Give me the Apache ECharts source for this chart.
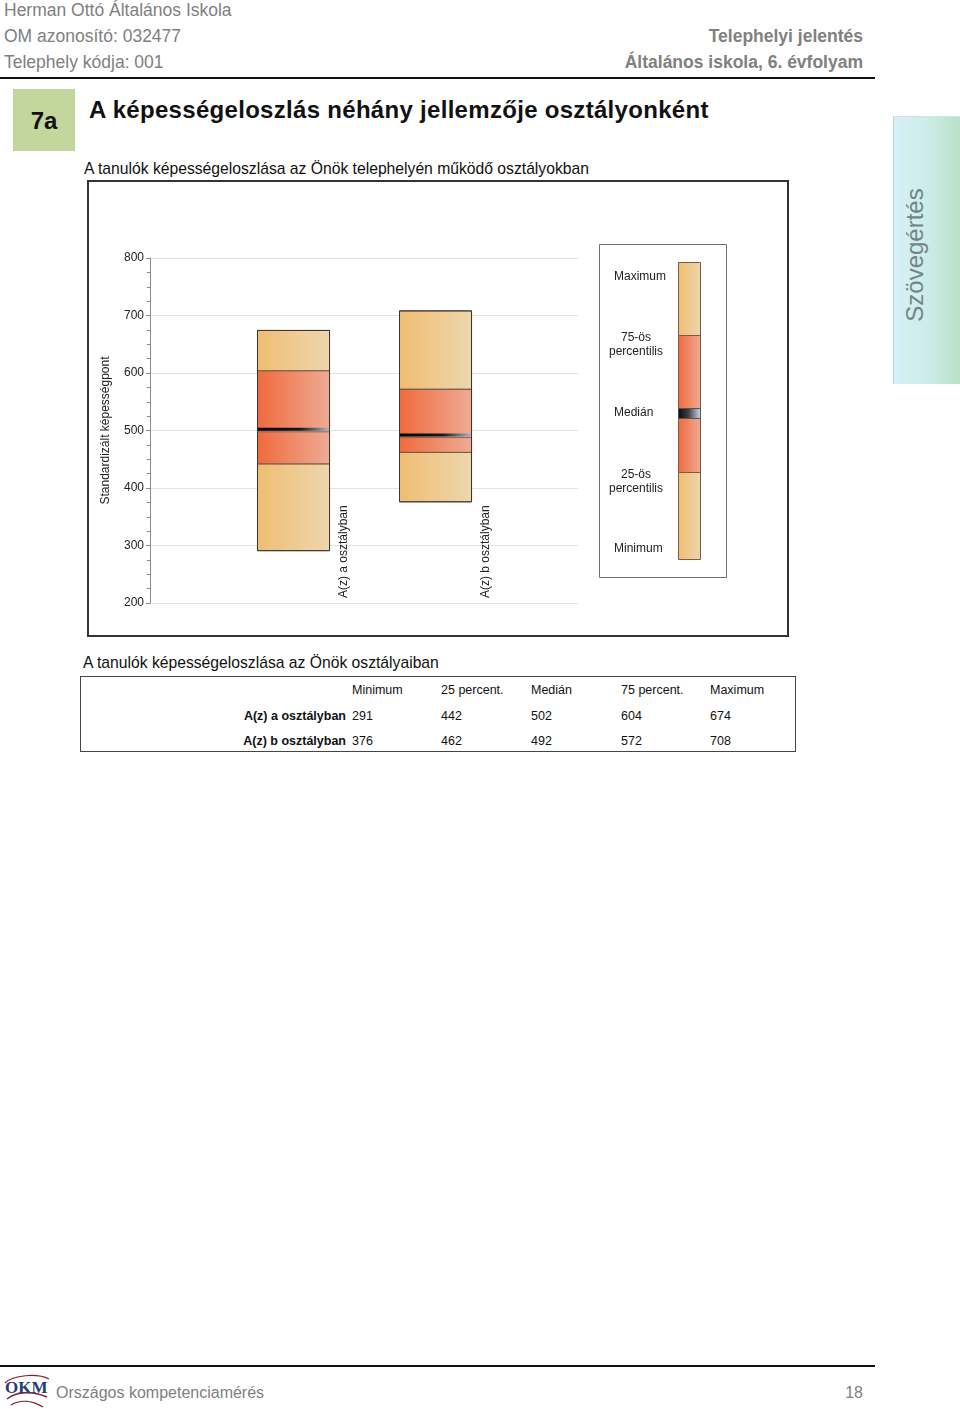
<!DOCTYPE html>
<html lang="hu">
<head>
<meta charset="utf-8">
<script src="https://cdn.jsdelivr.net/npm/echarts@6/dist/echarts.min.js"></script>
<style>
  html, body { margin: 0; padding: 0; background: #fff; }
  body { width: 960px; height: 1409px; position: relative; overflow: hidden;
         font-family: "Liberation Sans", Arial, sans-serif; }
  .abs { position: absolute; white-space: nowrap; }
  .hdr { color: #808080; font-size: 17.5px; line-height: 17px; }
  .hdrb { color: #808080; font-size: 17.5px; line-height: 17px; font-weight: bold; }
  .rule { position: absolute; background: #111; }
  #frame { position: absolute; left: 87px; top: 180px; width: 702px; height: 457px;
           border: 2px solid #333; box-sizing: border-box; }
  #chart { position: absolute; left: 89px; top: 182px; width: 698px; height: 452px; }
  #tbl { position: absolute; left: 80px; top: 676px; width: 716px; height: 76px;
         border: 1px solid #444; box-sizing: border-box; }
  .tc { position: absolute; font-size: 12.5px; line-height: 14px; color: #111; white-space: nowrap; }
  .tl { position: absolute; font-size: 12.5px; line-height: 14px; color: #111; font-weight: bold;
        white-space: nowrap; text-align: right; width: 200px; }
</style>
</head>
<body>
<!-- header -->
<div class="abs hdr" style="left:4px; top:2px;">Herman Ottó Általános Iskola</div>
<div class="abs hdr" style="left:4px; top:28px;">OM azonosító: 032477</div>
<div class="abs hdr" style="left:4px; top:54px;">Telephely kódja: 001</div>
<div class="abs hdrb" style="right:97px; top:28px;">Telephelyi jelentés</div>
<div class="abs hdrb" style="right:97px; top:54px;">Általános iskola, 6. évfolyam</div>
<div class="rule" style="left:0; top:77px; width:875px; height:2px;"></div>

<!-- section title -->
<div class="abs" style="left:13px; top:89px; width:62px; height:62px; background:#c3d69c;"></div>
<div class="abs" style="left:13px; top:89px; width:62px; height:62px; line-height:64px; text-align:center; font-weight:bold; font-size:24px; color:#111;">7a</div>
<div class="abs" style="left:89px; top:96px; font-weight:bold; font-size:24px; line-height:28px; letter-spacing:0.3px; color:#111;">A képességeloszlás néhány jellemzője osztályonként</div>

<!-- side tab -->
<div class="abs" style="left:893px; top:116px; width:67px; height:268px; border-left:1px solid #b9d6cc; border-top:1px solid #cfe6e0; box-sizing:border-box; background:linear-gradient(to right, #d6f1f8 0%, #cdece8 50%, #b8e1c9 100%);"></div>
<div class="abs" style="left:915px; top:255px; transform:translate(-50%,-50%) rotate(-90deg); font-size:24px; line-height:28px; color:#738585;">Szövegértés</div>

<!-- chart -->
<div class="abs" style="left:84px; top:160px; font-size:15.7px; line-height:18px; color:#111;">A tanulók képességeloszlása az Önök telephelyén működő osztályokban</div>
<div id="frame"></div>
<div id="chart"></div>

<!-- table -->
<div class="abs" style="left:83px; top:654px; font-size:15.7px; line-height:18px; color:#111;">A tanulók képességeloszlása az Önök osztályaiban</div>
<div id="tbl"></div>

<!-- footer -->
<div class="rule" style="left:0; top:1365px; width:875px; height:2px;"></div>
<svg class="abs" style="left:3px; top:1369px;" width="48" height="40" viewBox="0 0 48 40">
  <path d="M4 30 C 14 22, 30 22, 44 28" stroke="#8b1c2c" stroke-width="1.6" fill="none"/>
  <path d="M8 36 C 18 30, 30 32, 40 38" stroke="#8b1c2c" stroke-width="1.4" fill="none"/>
  <path d="M2 14 C 10 6, 34 4, 46 10" stroke="#8b1c2c" stroke-width="1.2" fill="none"/>
  <text x="2" y="24" font-family="Liberation Serif, serif" font-size="17" fill="#243b7a" font-weight="bold">OKM</text>
</svg>
<div class="abs" style="left:56px; top:1384px; font-size:16px; line-height:17px; color:#808080;">Országos kompetenciamérés</div>
<div class="abs" style="right:97px; top:1384px; font-size:16px; line-height:17px; color:#808080;">18</div>

<script>
// ---- data ----
var classes = ['A(z) a osztályban', 'A(z) b osztályban'];
var minimum = [291, 376];
var p25     = [442, 462];
var median  = [502, 492];
var p75     = [604, 572];
var maximum = [674, 708];
var tableHeaders = ['Minimum', '25 percent.', 'Medián', '75 percent.', 'Maximum'];
var yTicks = [200, 300, 400, 500, 600, 700, 800];

// ---- table ----
(function () {
  var tbl = document.getElementById('tbl');
  var colX = [271, 360, 450, 540, 629];      // relative to table box
  var rowY = [6, 32, 57];
  tableHeaders.forEach(function (h, i) {
    var d = document.createElement('div');
    d.className = 'tc'; d.textContent = h;
    d.style.left = colX[i] + 'px'; d.style.top = rowY[0] + 'px';
    tbl.appendChild(d);
  });
  classes.forEach(function (c, r) {
    var l = document.createElement('div');
    l.className = 'tl'; l.textContent = c;
    l.style.left = (265 - 200) + 'px'; l.style.top = rowY[r + 1] + 'px';
    tbl.appendChild(l);
    [minimum[r], p25[r], median[r], p75[r], maximum[r]].forEach(function (v, i) {
      var d = document.createElement('div');
      d.className = 'tc'; d.textContent = String(v);
      d.style.left = colX[i] + 'px'; d.style.top = rowY[r + 1] + 'px';
      tbl.appendChild(d);
    });
  });
})();

// ---- chart ----
var chart = echarts.init(document.getElementById('chart'), null, { renderer: 'canvas' });
var xCats = [''].concat(classes).concat(['']);
var boxData = classes.map(function (c, i) {
  return [i + 1, minimum[i], p25[i], median[i], p75[i], maximum[i]];
});
var yMinVal = yTicks[0], yMaxVal = yTicks[yTicks.length - 1];

function lightGrad() {
  return new echarts.graphic.LinearGradient(0, 0, 1, 0, [
    { offset: 0, color: '#efbd72' }, { offset: 1, color: '#eed6ae' }]);
}
function redGrad() {
  return new echarts.graphic.LinearGradient(0, 0, 1, 0, [
    { offset: 0, color: '#f06a3c' }, { offset: 1, color: '#efab95' }]);
}
function medGrad() {
  return new echarts.graphic.LinearGradient(0, 0, 1, 0, [
    { offset: 0, color: '#000000' }, { offset: 0.6, color: '#1a1a1a' }, { offset: 1, color: '#b0b8c0' }]);
}

function renderBox(params, api) {
  var x = api.value(0);
  var band = api.size([1, 0])[0];
  var w = band * 0.505;
  var cx = api.coord([x, api.value(1)])[0];
  var left = Math.round(cx - w / 2) + 0.5;
  var yMin = api.coord([x, api.value(1)])[1];
  var yQ1 = api.coord([x, api.value(2)])[1];
  var yMed = api.coord([x, api.value(3)])[1];
  var yQ3 = api.coord([x, api.value(4)])[1];
  var yMax = api.coord([x, api.value(5)])[1];
  var yBase = api.coord([x, yMinVal])[1];
  var segStroke = { stroke: '#6b5a4a', lineWidth: 1 };
  return {
    type: 'group',
    children: [
      { type: 'rect', shape: { x: left, y: yQ1, width: w, height: yMin - yQ1 },
        style: Object.assign({ fill: lightGrad() }, segStroke) },
      { type: 'rect', shape: { x: left, y: yQ3, width: w, height: yQ1 - yQ3 },
        style: Object.assign({ fill: redGrad() }, segStroke) },
      { type: 'rect', shape: { x: left, y: yMax, width: w, height: yQ3 - yMax },
        style: Object.assign({ fill: lightGrad() }, segStroke) },
      { type: 'rect', shape: { x: left, y: yMed - 1.5, width: w, height: 3 },
        style: { fill: medGrad() } },
      { type: 'line', shape: { x1: left, y1: yMed + 2.5, x2: left + w, y2: yMed + 2.5 },
        style: { stroke: '#7a6a60', lineWidth: 1 } },
      { type: 'rect', shape: { x: left, y: yMax, width: w, height: yMin - yMax },
        style: { fill: 'none', stroke: '#3a3430', lineWidth: 1 } },
      { type: 'text', x: left + w + 14, y: yBase - 5, rotation: Math.PI / 2,
        style: { text: classes[params.dataIndex], fontSize: 12,
                 fontFamily: 'Liberation Sans, Arial, sans-serif', fill: '#222',
                 align: 'left', verticalAlign: 'middle' } }
    ]
  };
}

// legend (key) geometry, chart-local pixels
var OX = 89, OY = 182;
function L(px, py) { return [px - OX, py - OY]; }
var legendChildren = [];
(function () {
  var b = L(599, 244);
  legendChildren.push({ type: 'rect', shape: { x: b[0] + 0.5, y: b[1] + 0.5, width: 127, height: 333 },
    style: { fill: '#fff', stroke: '#6e6e6e', lineWidth: 1 } });
  var bx = 678 - OX + 0.5, bw = 22;
  var segs = [
    [262, 335, 'light'], [335, 408, 'red'], [418, 472, 'red'], [472, 559, 'light']];
  segs.forEach(function (s) {
    legendChildren.push({ type: 'rect',
      shape: { x: bx, y: s[0] - OY + 0.5, width: bw, height: s[1] - s[0] },
      style: { fill: s[2] === 'light' ? lightGrad() : redGrad(), stroke: '#7a5a48', lineWidth: 1 } });
  });
  legendChildren.push({ type: 'rect', shape: { x: bx, y: 408 - OY + 0.5, width: bw, height: 10 },
    style: { fill: new echarts.graphic.LinearGradient(0, 0, 1, 0, [
      { offset: 0, color: '#0a0a0a' }, { offset: 0.45, color: '#3a3f48' }, { offset: 1, color: '#cfe0f0' }]),
      stroke: '#555', lineWidth: 1 } });
  var tf = 'Liberation Sans, Arial, sans-serif';
  var labels = [
    ['Maximum', 614, 277, 'left'],
    ['75-ös\npercentilis', 636, 345, 'center'],
    ['Medián', 614, 413, 'left'],
    ['25-ös\npercentilis', 636, 482, 'center'],
    ['Minimum', 614, 549, 'left']];
  labels.forEach(function (t) {
    legendChildren.push({ type: 'text', x: t[1] - OX, y: t[2] - OY,
      style: { text: t[0], fontSize: 12, lineHeight: 14, fontFamily: tf, fill: '#222',
               align: t[3], verticalAlign: 'middle' } });
  });
})();

chart.setOption({
  animation: false,
  backgroundColor: '#fff',
  textStyle: { fontFamily: 'Liberation Sans, Arial, sans-serif' },
  grid: { left: 150 - OX, top: 258 - OY, width: 428, height: 345, containLabel: false },
  xAxis: {
    type: 'category', data: xCats, boundaryGap: false,
    axisLine: { show: false }, axisTick: { show: false }, axisLabel: { show: false },
    splitLine: { show: false }
  },
  yAxis: {
    type: 'value', min: yMinVal, max: yMaxVal, interval: 100,
    name: 'Standardizált képességpont', nameLocation: 'middle', nameGap: 38, nameRotate: 90,
    nameTextStyle: { fontSize: 12, color: '#222' },
    axisLine: { show: true, lineStyle: { color: '#8a8a8a', width: 1 } },
    axisTick: { show: true, length: 4, lineStyle: { color: '#8a8a8a' } },
    minorTick: { show: true, splitNumber: 4, length: 3, lineStyle: { color: '#8a8a8a' } },
    axisLabel: { fontSize: 12, color: '#222', margin: 6 },
    splitLine: { show: true, lineStyle: { color: '#dde3e8', width: 1 } }
  },
  series: [{
    type: 'custom', renderItem: renderBox, data: boxData,
    encode: { x: 0, y: [1, 2, 3, 4, 5] }, clip: false
  }],
  graphic: [{ type: 'group', left: 0, top: 0, silent: true, children: legendChildren, bounding: 'raw' }]
});
</script>
</body>
</html>
